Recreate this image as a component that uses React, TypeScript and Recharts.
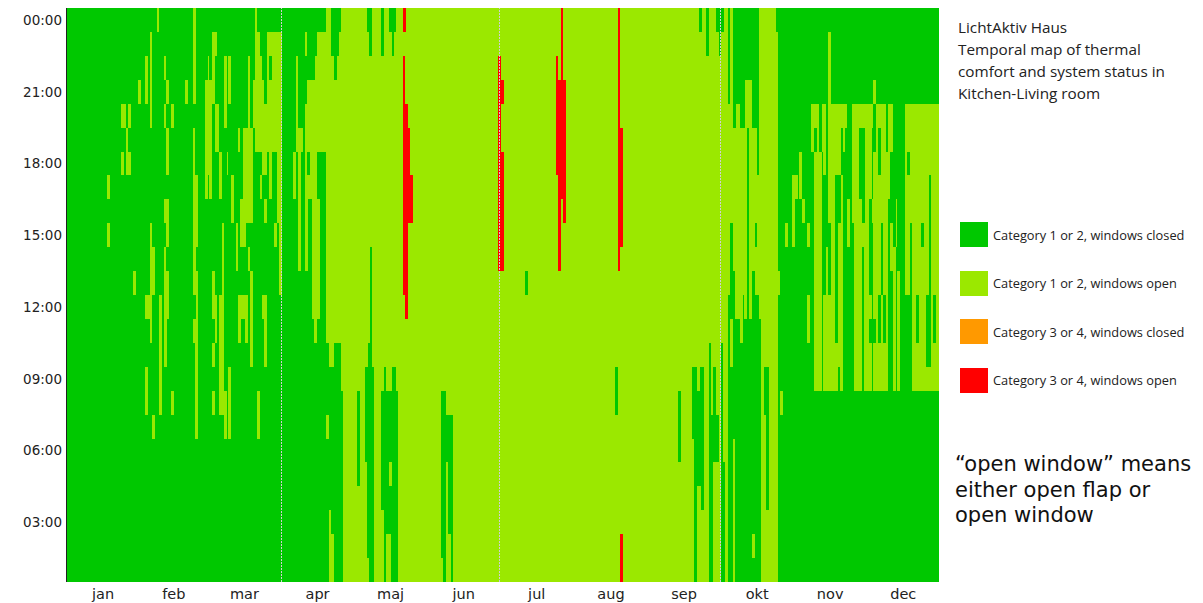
import React from 'react';
import { BarChart, Bar, XAxis, YAxis, Cell, ReferenceLine } from 'recharts';

// Each day: 24 hourly cells from the top row (00:00) down to the bottom row (01:00).
// G = Category 1 or 2, windows closed; L = Category 1 or 2, windows open;
// O = Category 3 or 4, windows closed; R = Category 3 or 4, windows open.
const G24 = 'GGGGGG GGGGGG GGGGGG GGGGGG';
const L24 = 'LLLLLL LLLLLL LLLLLL LLLLLL';

const jan = [
  G24, G24, G24, G24, G24, G24, G24, G24, G24, G24, G24, G24, G24, G24, G24, G24, G24,
  'GGGGGG GLGLGG GGGGGG GGGGGG',
  G24, G24, G24, G24, G24,
  'GGGGLG LGGGGG GGGGGG GGGGGG',
  'GGGGLG GGGGGG GGGGGG GGGGGG',
  'GGGGGL LGGGGG GGGGGG GGGGGG',
  'GGGGLG LGGGGG GGGGGG GGGGGG',
  G24,
  'GGGGGG GGGGGL GGGGGG GGGGGG',
  G24,
  'GGGLGG GGGGGG GGGGGG GGGGGG',
];

const feb = [
  G24, G24,
  'GGLLGG GGGGGG LGGLLG GGGGGG',
  'GGGGGG GGGGGG LGGGGG GGGGGG',
  'GLLLLG GGGLLL LLGGGG GGGGGG',
  'GGGGGG GGGGLL GGGGGL GGGGGG',
  G24,
  'LGGGGG GGGGGG GGGGGG GGGGGG',
  'GGGGGG GGGGGG LLLLLG GGGGGG',
  G24,
  'GGLGLG GGLGLL LLLGGG GGGGGG',
  'GGGLGL LGLLGL LGGGGG GGGGGG',
  G24,
  'GGGGLG GGGGGG GGGGLG GGGGGG',
  G24, G24, G24, G24, G24,
  'GGGLGG GGGGGG GGGGGG GGGGGG',
  G24, G24,
  'LLLLGL LLLLLL GLGGGG GGGGGG',
  'GGGGGG GLLLGL LLLLLL GGGGGG',
  G24, G24, G24,
  'GGGLLL LLGGGG GGGGGG GGGGGG',
];

const mar = [
  'GGLLLL LGGGGG GGGGGG GGGGGG',
  'GGGLLL LLGGGG GGGGGG GGGGGG',
  'GLLLGG GGGGGL LGLGLG GGGGGG',
  'GLGGLL GGGGGG LLGGGG GGGGGG',
  'GGGGLL GGGGGG GGGGGG GGGGGG',
  'GGGGGG LLGGGG LLLLLG GGGGGG',
  'GGGGGG GGGLLL LLLLLG GGGGGG',
  'GGLLLG GGGGGG GGGGLL GGGGGG',
  'GGGGGG LGGGGG GGGGGG GGGGGG',
  'GGLLGG GGGGGG GGGLLL GGGGGG',
  'GGGGGG GLLGGG GGGGGG GGGGGG',
  G24,
  'GGGGGG GGGLLG GGGGGG GGGGGG',
  'GGGGGL GGGGGG LLGGGG GGGGGG',
  'GGGGGG GGLLGG LGGGGG GGGGGG',
  'GGGGGL LLLLGG LGGGGG GGGGGG',
  'GGGGGL LLLGGG LLGGGG GGGGGG',
  'GGLLLL LLLGLG GGGGGG GGGGGG',
  'GGGGGL LLLGGL LLLGGG GGGGGG',
  'GGGLLG GGGGGG GGGGGG GGGGGG',
  'LLLLLL GGGGGG GGGGGG GGGGGG',
  'GLLLLL GGGGGG GGGGLL GGGGGG',
  'GGLLLL GLGGGG GGGGGG GGGGGG',
  'GGGLLL LGGGGG LGGGGG GGGGGG',
  'GGGGLL LGLGGG LLLGGG GGGGGG',
  'GLLLLL GGGGGG GGGGGG GGGGGG',
  'GLGLLL LLGGGG GGGGGG GGGGGG',
  'GLLLLL GGGGGG GGGGGG GGGGGG',
  'GLLLLL GGGLGG GGGGGG GGGGGG',
  'GLLLLL LLLGGG GGGGGG GGGGGG',
  'GLLLLL LLLLLL GGGGGG GGGGGG',
];

const apr = [
  G24, G24, G24, G24, G24,
  'GGGGGG LLGGGG GGGGGG GGGGGG',
  'GGLLLL GGGGGG GGGGGG GGGGGG',
  'GGGGGL LLLLLG GGGGGG GGGGGG',
  'GGGGGL GGGGGG GGGGGG GGGGGG',
  G24,
  'GLGGLL LLLLLG GGGGGG GGGGGG',
  'GGGLLL GLGGGG GGGGGG GGGGGG',
  'GGGLLL LLGGGG GGGGGG GGGGGG',
  'GGGLLL LLLLLL LGGGGG GGGGGG',
  'GGLLLL LLLLLL LLGGGG GGGGGG',
  'GLLLLL GGLLLL LGGGGG GGGGGG',
  'GLLLLL GGGGGG GGGGGG GGGGGG',
  'GLLLLL GGGGGG GGGGGG GGGGGG',
  'GLLLLL GGGGGG GGGGGG GGGGGG',
  'LLLLLL LLLLLL LLGGGL GGGGGG',
  'LLLLLL LLLLLL LLLGGG GGGLLL',
  'GGLLLL LLLLLL LLLGGG GGGGLL',
  'GGGLLL LLLLLL LLGGGG GGGGGG',
  'GGLLLL LLLLLL LLGGGG GGGGGG',
  'GLLLLL LLLLLL LLGGGG GGGGGG',
  'LLLLLL LLLLLL LLLLGG GGGGGG',
  L24, L24, L24, L24,
];

const maj = [
  L24, L24,
  'LLLLLL LLLLLL LLLLGG GGLLLL',
  L24, L24,
  'LLLLLL LLLLLL LLLGGG GLLLLL',
  'GLLLLL LLLLLL LLGGGG GGGGGL',
  'GGLLLL LLLLGG GGGGGG GGGGGG',
  'LLLLLL LLLLLL LLLGGG GGGGGG',
  L24, L24, L24,
  'GGLLLL LLLLLL LLLLGG GGGLLL',
  'LLLLLL LLLLLL LLLGGG GGGGGG',
  'LLLLLL LLLLLL LLLLGG GGGGLL',
  'GLLLLL LLLLLL LLLLGG GLGGLL',
  'GGLLLL LLLLLL LLLGGG GGGGGG',
  'GLLLLL LLLLLL LLLGGG GGGGGG',
  'LLLLLL LLLLLL LLLLGG GGGGGG',
  L24, L24,
  'RLRRRR RRRRRR LLLLLL LLLLLL',
  'LLLLRR RRRRRR RLLLLL LLLLLL',
  'LLLLLR RRRLLL LLLLLL LLLLLL',
  'LLLLLL LRRLLL LLLLLL LLLLLL',
  L24, L24, L24, L24, L24, L24,
];

const jun = [
  L24, L24, L24, L24, L24, L24,
  'LLLLLL LLLLLL LLLLGG GGGGGL',
  'LLLLLL LLLLLL LLLLGG GGGGGG',
  'LLLLLL LLLLLL LLLLLG GLLLLL',
  'LLLLLL LLLLLL LLLLLG GGGGLL',
  'LLLLLL LLLLLL LLLLLG GGGGGG',
  L24, L24, L24, L24, L24, L24, L24, L24, L24, L24,
  L24, L24, L24, L24, L24, L24, L24, L24, L24,
];

const jul = [
  'LLRRRR RRRRRL LLLLLL LLLLLL',
  'LLLRLL RRRRRL LLLLLL LLLLLL',
  L24, L24, L24, L24, L24, L24, L24, L24, L24,
  'LLLLLL LLLLLG LLLLLL LLLLLL',
  L24, L24, L24, L24, L24, L24, L24, L24, L24, L24, L24, L24,
  'LLRRRR RLLLLL LLLLLL LLLLLL',
  'LLLRRR RRRRRL LLLLLL LLLLLL',
  'RRRRRR RRLLLL LLLLLL LLLLLL',
  'LLLRRR RRRLLL LLLLLL LLLLLL',
  L24, L24, L24,
];

const aug = [
  L24, L24, L24, L24, L24, L24, L24, L24, L24,
  L24, L24, L24, L24, L24, L24, L24, L24, L24,
  'LLLLLL LLLLLL LLLGGL LLLLLL',
  'RRRRRR RRRRRL LLLLLL LLLLLL',
  'LLLLLR RRRRLL LLLLLL LLLLRR',
  L24, L24, L24, L24, L24, L24, L24, L24, L24, L24,
];

const sep = [
  L24, L24, L24, L24, L24, L24, L24, L24, L24, L24, L24, L24, L24,
  'LLLLLL LLLLLL LLLLGG GLLLLL',
  L24, L24, L24, L24, L24,
  'LLLLLL LLLLLL LLLGGG LLLLLL',
  'LLLLLL LLLLLL LLLGGG GGGGGG',
  'LLLLLL LLLLLL LLLLGG GGLLLL',
  'GLLLLL LLLLLL LLLGGG GGLLLL',
  'LLLLLL LLLLLL LLLGGG GGGLLL',
  L24,
  'GGLLLL LLLLLL LLLLLL LLLLLL',
  'LLLLLL LLLLLL LLGGGG GGGGGG',
  'LLLLLL LLLLLL LLLLLG GGGGGG',
  'LLLLLL LLLLLL LLLGGG GLLLLL',
  'GLLLLL LLLLLL LLLLLG GLLLLL',
];

const okt = [
  'GGLLLL LLLLLL LLLLLL LLLLLL',
  'GLLLLL LLLLLL LLGGGG GGGGGG',
  'LLLLLL LLLLLL LLLLLL LGGGGG',
  L24,
  'GGGGLL LLLLLL GGGGGG GGGGGG',
  'LLLLLL LLLGGG GLLGGG GGGGGG',
  'GGGGGL LLLLLG GGGGGG LLLLLL',
  'GGGGLL LLLLLL LGGGGG GGGGGG',
  'GGGGLL LLLLLL LGGGGG GGGGGG',
  'GGGGGL LLLLLL LLGGGG GGGGGG',
  'GGGGGL LLLLLL GGGGGG GGGGGG',
  'GGGLLL LLLLLL LGGGGG GGGGGG',
  'GGGLLG GGGGGG GGGGGG GGGGGG',
  'GGGLLL LLLLLL LGGGGG GGGGGG',
  'GGGGGL LLLLLG GGGGGG GGGGLG',
  'GGGGGL LLLGLL GGGGGG GGGGGG',
  'GGGGGG GLLLLL GGGGGG GGGGGG',
  'LLLLLL LLLLLL LGGGGG GGGGGG',
  L24,
  'LLLLLL LLLLLL LLLGGL LLLLLL',
  'LLLLLL LLLLLL LLLGGG GGGLLL',
  L24, L24, L24,
  'GLLLLL LLLLLL LLLLLL LLLLLL',
  'GGGGGG GGGGGL GGGGGG GGGGGG',
  'GGGGGG GGGGGG GGGGLG GGGGGG',
  G24,
  'GGGGGG GGGLGG GGGGGG GGGGGG',
  G24, G24,
];

const nov = [
  'GGGGGG GLLLGG GGGGGG GGGGGG',
  'GGGGGG GLGGGG GGGGGG GGGGGG',
  G24,
  'GGGGGG LLGGGG GGGGGG GGGGGG',
  'GGGGGG GGLGGG GGGGGG GGGGGG',
  G24,
  'GGGGGG GGGLGG LLGGGG GGGGGG',
  G24,
  'GGGGLL GGGGGG GGGGGG GGGGGG',
  'GGGGLG LLLLLL LLLLGG GGGGGG',
  'GGGGLL LLLLLL LLLLGG GGGGGG',
  'GGGGGG LLLLLL LLLLGG GGGGGG',
  'GGGGLL GGGGGG GGGGGG GGGGGG',
  'GGGGLL LGGGGG LLLLGG GGGGGG',
  'GGGGGG GGGGLL LLLLGG GGGGGG',
  'GLLLLL LLLGGG LLLLGG GGGGGG',
  'GGGGLL LLLLLL LLLLGG GGGGGG',
  'GGGGLL LLLLLL LLLLGG GGGGGG',
  'GGGGLL LGGGGG GGLLGG GGGGGG',
  'GGGGLL LGGLLL LLLGGG GGGGGG',
  'GGGGLG GLLLLL LLLLGG GGGGGG',
  'GGGGLL GGGGGG GGGGGG GGGGGG',
  'GGGGLG GGGGGG GGGGGG GGGGGG',
  'GGGGGG GGLLGG GGGGGG GGGGGG',
  G24,
  'GGGGLL LLLGGG GGGGGG GGGGGG',
  'GGGGLL LLLLLL LLLLGG GGGGGG',
  'GGGGLL LLLLLL LLLLGG GGGGGG',
  'GGGGLG GGLLLL LLLLGG GGGGGG',
  'GGGGLG GGGLGG GGGGGG GGGGGG',
];

const dec = [
  'GGGGLL LLLLLL LLLLGG GGGGGG',
  'GGGGLL LLLLLL LLLLGG GGGGGG',
  'GGGGLL LLGGGG LGLLGG GGGGGG',
  'GGGGLG GGLGGG GGGGGG GGGGGG',
  'GGGLGG LLLLLL LGLLGG GGGGGG',
  'GGGGLL LLLLLL LLLLGG GGGGGG',
  'GGGGLG GLLLLL GGLLGG GGGGGG',
  'GGGGLL LLLGGG LLLLGG GGGGGG',
  'GGGGLL LLLLLL GGLLGG GGGGGG',
  'GGGGGG LLLLLL LLLLGG GGGGGG',
  'GGGGLL LLGGGG GGGGGG GGGGGG',
  'GGGGLL GGGLLG GGGGGG GGGGGG',
  'GGGGGG GGGGLL LLLLGG GGGGGG',
  'GGGGGG GGLLGG GGGGGG GGGGGG',
  'GGGGGG GGGGGL LLLLGG GGGGGG',
  G24, G24,
  'GGGGLL LLLLLL GGGGGG GGGGGG',
  'GGGGLL GLLLLL GGGGGG GGGGGG',
  'GGGGLL LLLGGG GGGGGG GGGGGG',
  'GGGGLL LLLLLL LLLLGG GGGGGG',
  'GGGGLL LLLLLL LLLLGG GGGGGG',
  'GGGGLL LLLLLL GGLLGG GGGGGG',
  'GGGGLL LLLLLL LLLLGG GGGGGG',
  'GGGGLL LLLGLL LLLLGG GGGGGG',
  'GGGGLL LLLLLL LLLLGG GGGGGG',
  'GGGGLL LLLLLL GGGLGG GGGGGG',
  'GGGGLL LGGGGG GGGLGG GGGGGG',
  'GGGGLL LLLLLL LLLLGG GGGGGG',
  'GGGGLL LLLLLL GGLLGG GGGGGG',
  'GGGGLL LLLLLL LLLLGG GGGGGG',
];

const monthNames = ['jan', 'feb', 'mar', 'apr', 'maj', 'jun', 'jul', 'aug', 'sep', 'okt', 'nov', 'dec'];
const monthCenters = [15.5, 45, 74.5, 105, 135.5, 166, 196.5, 227.5, 258, 288.5, 319, 349.5];
const quarterStarts = [90, 181, 273];
const hourTickValues = [23.5, 20.5, 17.5, 14.5, 11.5, 8.5, 5.5, 2.5];
const hourTickLabels = ['00:00', '21:00', '18:00', '15:00', '12:00', '09:00', '06:00', '03:00'];

const categoryKeys = ['G', 'L', 'O', 'R'];
const categoryLabels = [
  'Category 1 or 2, windows closed',
  'Category 1 or 2, windows open',
  'Category 3 or 4, windows closed',
  'Category 3 or 4, windows open',
];
const categoryColors = ['#00C800', '#9BE800', '#FF9900', '#FF0000'];

const titleLines = ['LichtAktiv Haus', 'Temporal map of thermal', 'comfort and system status in', 'Kitchen-Living room'];
const noteLines = ['\u201Copen window\u201D means', 'either open flap or', 'open window'];

const colorOf = (k: string) => categoryColors[categoryKeys.indexOf(k)] || 'none';

function buildRows() {
  const days = [...jan, ...feb, ...mar, ...apr, ...maj, ...jun, ...jul, ...aug, ...sep, ...okt, ...nov, ...dec];
  let maxRuns = 0;
  const rows = days.map((raw, i) => {
    const s = raw.replace(/\s+/g, '').padEnd(24, 'G').slice(0, 24);
    const row: any = { day: i };
    let k = 0;
    let r = 23;
    while (r >= 0) {
      const c = s[r];
      let len = 0;
      while (r >= 0 && s[r] === c) {
        len++;
        r--;
      }
      row['s' + k] = len;
      row['c' + k] = c;
      k++;
    }
    maxRuns = Math.max(maxRuns, k);
    return row;
  });
  rows.forEach((row: any) => {
    for (let k = 0; k < maxRuns; k++) {
      if (row['s' + k] === undefined) {
        row['s' + k] = 0;
        row['c' + k] = '';
      }
    }
  });
  return { rows, maxRuns };
}

const { rows, maxRuns } = buildRows();

const HourRect = (props: any) => {
  const { x, y, width, height, fill } = props;
  if (!(height > 0) || !fill || fill === 'none') return <g />;
  return <rect x={x} y={y} width={width + 1} height={height} fill={fill} shapeRendering="crispEdges" />;
};

const sideFont = '"Open Sans", "Liberation Sans", sans-serif';
const axisFont = 'DejaVu Sans, sans-serif';

export default function App() {
  return (
    <div style={{ position: 'relative', width: 1195, height: 595 }}>
      <BarChart
        width={1195}
        height={595}
        data={rows}
        margin={{ top: 0, right: 265, bottom: 0, left: 0 }}
        barCategoryGap={0}
        barGap={0}
      >
        <XAxis xAxisId="cat" dataKey="day" type="category" orientation="top" height={0} hide />
        <XAxis
          xAxisId="num"
          type="number"
          orientation="bottom"
          domain={[0, 365]}
          ticks={monthCenters}
          interval={0}
          allowDataOverflow
          axisLine={false}
          tickLine={false}
          tickSize={5}
          tickMargin={2}
          height={21}
          tickFormatter={(v: number) => monthNames[monthCenters.indexOf(v)] || ''}
          tick={{ fontSize: 14.5, fill: '#222', fontFamily: axisFont }}
        />
        <YAxis
          yAxisId="y"
          type="number"
          domain={[0, 24]}
          ticks={hourTickValues}
          interval={0}
          allowDataOverflow
          width={58}
          axisLine={false}
          tickLine={false}
          tickSize={2}
          tickMargin={2}
          tickFormatter={(v: number) => hourTickLabels[hourTickValues.indexOf(v)] || ''}
          tick={{ fontSize: 13.5, fill: '#222', fontFamily: axisFont }}
        />
        {Array.from({ length: maxRuns }, (_, k) => (
          <Bar
            key={k}
            dataKey={'s' + k}
            stackId="a"
            xAxisId="cat"
            yAxisId="y"
            isAnimationActive={false}
            shape={HourRect}
          >
            {rows.map((row: any, i: number) => (
              <Cell key={i} fill={colorOf(row['c' + k])} />
            ))}
          </Bar>
        ))}
        {quarterStarts.map((q) => (
          <ReferenceLine
            key={q}
            xAxisId="num"
            yAxisId="y"
            x={q}
            stroke="#D0D0D0"
            strokeDasharray="2 1"
            shapeRendering="crispEdges"
          />
        ))}
        <ReferenceLine xAxisId="num" yAxisId="y" x={0} stroke="#222" shapeRendering="crispEdges" />
        <ReferenceLine xAxisId="num" yAxisId="y" x={365} stroke="#222" shapeRendering="crispEdges" />
      </BarChart>

      <div
        style={{
          position: 'absolute',
          left: 950,
          top: 8,
          fontFamily: sideFont,
          fontSize: 15.3,
          lineHeight: '22px',
          color: '#222',
          whiteSpace: 'nowrap',
        }}
      >
        {titleLines.map((t) => (
          <div key={t}>{t}</div>
        ))}
      </div>

      {categoryLabels.map((label, i) => (
        <div
          key={label}
          style={{
            position: 'absolute',
            left: 952,
            top: 214 + i * 48.5,
            height: 25,
            display: 'flex',
            alignItems: 'center',
            whiteSpace: 'nowrap',
            fontFamily: sideFont,
            fontSize: 12.8,
            color: '#222',
          }}
        >
          <div style={{ width: 28, height: 25, background: categoryColors[i], marginRight: 5, flexShrink: 0 }} />
          <span>{label}</span>
        </div>
      ))}

      <div
        style={{
          position: 'absolute',
          left: 947,
          top: 444,
          fontFamily: axisFont,
          fontSize: 21,
          lineHeight: '25.5px',
          color: '#111',
          whiteSpace: 'nowrap',
        }}
      >
        {noteLines.map((t) => (
          <div key={t}>{t}</div>
        ))}
      </div>
    </div>
  );
}
